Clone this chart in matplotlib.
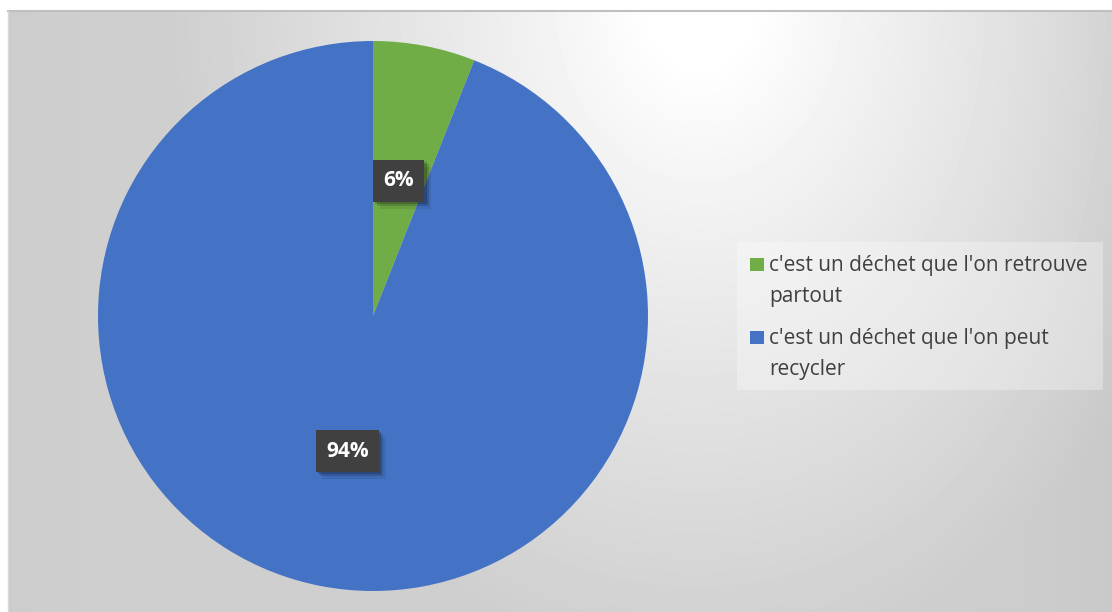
import textwrap
import numpy as np
import matplotlib
matplotlib.use("Agg")
import matplotlib.pyplot as plt
import matplotlib.patheffects as pe
from matplotlib.patches import Rectangle

labels = ["c'est un déchet que l'on retrouve partout",
          "c'est un déchet que l'on peut recycler"]
values = [6, 94]
colors = ["#70AD47", "#4472C4"]

W, H = 1112, 612
plt.rcParams['font.family'] = ['Open Sans', 'DejaVu Sans']

fig = plt.figure(figsize=(W / 100, H / 100), dpi=100)
fig.patch.set_facecolor("white")


def px(x, y):
    # pixel position (from top-left) -> figure fraction
    return x / W, 1 - y / H


# chart area with soft radial shading
x0, y0 = 8, 11
bg = fig.add_axes([x0 / W, 0, 1 - x0 / W, 1 - y0 / H], zorder=0)
gx, gy = np.meshgrid(np.arange(x0, W), np.arange(y0, H))
r = np.sqrt(((gx - 700) / 560.0) ** 2 + ((gy - 0) / 700.0) ** 2)
shade = np.clip(1.03 - 0.23 * r ** 0.85, 0.81, 1.0)
corner = np.exp(-((W - gx) / 90.0)) * 0.025 + np.exp(-((gx - x0) / 40.0)) * 0.01
shade = shade - corner
bg.imshow(shade, cmap="gray", vmin=0, vmax=1, aspect="auto",
          interpolation="bilinear", extent=[0, 1, 0, 1])
bg.set_xlim(0, 1)
bg.set_ylim(0, 1)
bg.axis("off")
bg.plot([0, 1], [1, 1], color="#bfbfbf", lw=1.5, transform=bg.transAxes, clip_on=False)
bg.plot([0, 0], [0, 1], color="#d9d9d9", lw=1.0, transform=bg.transAxes, clip_on=False)

# pie
cx, cy, rad = 373, 316, 275
ax = fig.add_axes([(cx - rad) / W, (H - cy - rad) / H, 2 * rad / W, 2 * rad / H], zorder=1)
wedges, _ = ax.pie(values, colors=colors, startangle=90, counterclock=False,
                   radius=1.0, wedgeprops=dict(linewidth=0))
ax.set_xlim(-1, 1)
ax.set_ylim(-1, 1)
ax.axis("off")

total = float(sum(values))
start = 90.0
for v in values:
    mid = np.deg2rad(start - v / total * 180.0)
    start -= v / total * 360.0
    t = ax.text(0.5 * np.cos(mid), 0.5 * np.sin(mid), f"{v}%",
                ha="center", va="center", color="white", fontsize=15,
                fontweight="bold",
                bbox=dict(boxstyle="square,pad=0.5", facecolor="#404040",
                          edgecolor="none"))
    t.get_bbox_patch().set_path_effects([
        pe.SimplePatchShadow(offset=(5, -5), shadow_rgbFace="#000000", alpha=0.08),
        pe.SimplePatchShadow(offset=(3, -3), shadow_rgbFace="#000000", alpha=0.15),
        pe.SimplePatchShadow(offset=(1.5, -1.5), shadow_rgbFace="#000000", alpha=0.2),
        pe.Normal()])

# legend
lx, ly = px(737, 390)
lw, lh = 366 / W, 148 / H
fig.patches.append(Rectangle((lx, ly), lw, lh, transform=fig.transFigure,
                             facecolor="white", alpha=0.3, edgecolor="none", zorder=2))
base_y = [271, 344]
line_gap = 31
for lab, col, by in zip(labels, colors, base_y):
    sx, sy = px(750, by)
    fig.patches.append(Rectangle((sx, sy), 13.5 / W, 13 / H, transform=fig.transFigure,
                                 facecolor=col, edgecolor="none", zorder=3))
    for i, line in enumerate(textwrap.wrap(lab, 33)):
        tx, ty = px(769, by + i * line_gap)
        fig.text(tx, ty, line, ha="left", va="baseline",
                 fontsize=15, color="#404040", zorder=4)

fig.savefig("out.png", dpi=100)
